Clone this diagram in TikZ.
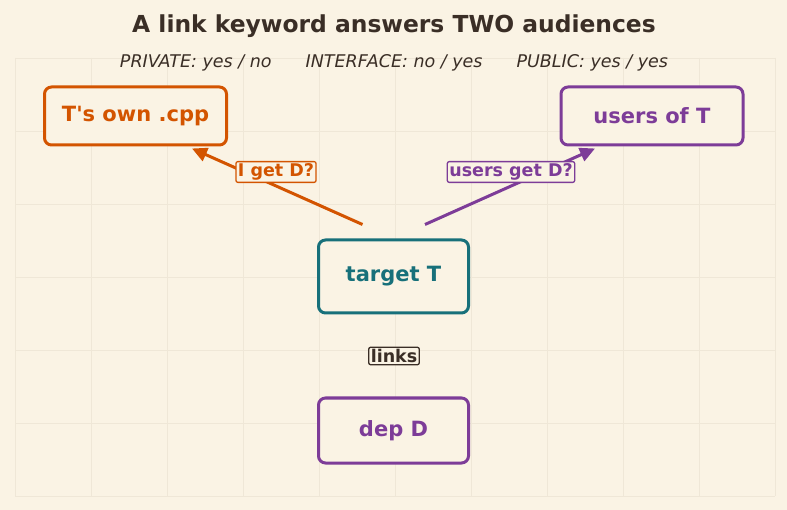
\documentclass[tikz,border=0pt]{standalone}
\usepackage{fontspec}
\setmainfont{DejaVu Sans}
\usetikzlibrary{arrows.meta, calc}

\definecolor{paper}{HTML}{FAF3E4}
\definecolor{gridcol}{HTML}{EFE7D7}
\definecolor{ink}{HTML}{3A2E26}
\definecolor{rust}{HTML}{D35400}
\definecolor{plum}{HTML}{7D3C98}
\definecolor{teal}{HTML}{17707A}

\begin{document}
\begin{tikzpicture}[
    x = 1pt, y = -1pt,
    line width = 3pt,
    box/.style = {rectangle,
      rounded corners = 7pt,
      draw, fill = paper,
      minimum width = 150pt,
      minimum height = 64pt,
      font = \bfseries\fontsize{21}{25}\selectfont},
    tag/.style = {rectangle,
      rounded corners = 2pt,
      draw, fill = paper,
      line width = 1.3pt,
      inner sep = 2pt,
      font = \bfseries\fontsize{17.5}{21}\selectfont},
    gridline/.style = {draw = gridcol, line width = 0.6pt},
    arrow/.style = {-{Triangle[length = 15pt, width = 14pt]}}
    ]
    \fill [paper] (0, 0) rectangle (787, 510);
    \foreach \i in {0, ..., 10}
      \draw [gridline] ({15 + 76*\i}, 58) -- ({15 + 76*\i}, 496);
    \foreach \j in {0, ..., 6}
      \draw [gridline] (15, {58 + 73*\j}) -- (775, {58 + 73*\j});

    \node at (394, 26.5) [name = title, text = ink, font = \bfseries\fontsize{23.4}{28}\selectfont]
    {A link keyword answers TWO audiences};
    \node at (394, 62.5) [name = sub, text = ink, font = \itshape\fontsize{17.5}{21}\selectfont]
    {PRIVATE: yes / no\hspace{34pt}INTERFACE: no / yes\hspace{34pt}PUBLIC: yes / yes};

    \node at (135.5, 116) [box, name = own, draw = rust, text = rust,
      minimum width = 182pt, minimum height = 58pt] {T\textquotesingle s own .cpp};
    \node at (652, 116) [box, name = users, draw = plum, text = plum,
      minimum width = 182pt, minimum height = 58pt] {users of T};
    \node at (393.5, 276.5) [box, name = T, draw = teal, text = teal,
      minimum height = 73pt] {target T};
    \node at (393.5, 430.5) [box, name = D, draw = plum, text = plum,
      minimum height = 65pt] {dep D};

    \coordinate (fromL) at ($(T.north) + (-31, -14)$);
    \coordinate (fromR) at ($(T.north) + (31.5, -14)$);
    \coordinate (toL) at ($(own.south) + (56.5, 2)$);
    \coordinate (toR) at ($(users.south) + (-57, 2)$);

    \draw [arrow, rust] (fromL) to (toL);
    \draw [arrow, plum] (fromR) to (toR);

    \node at (276, 172) [tag, name = ask, draw = rust, text = rust] {I get D?};
    \node at (511, 172) [tag, name = askusers, draw = plum, text = plum] {users get D?};
    \node at (394, 356) [tag, name = links, draw = ink, text = ink] {links};
  \end{tikzpicture}
\end{document}
